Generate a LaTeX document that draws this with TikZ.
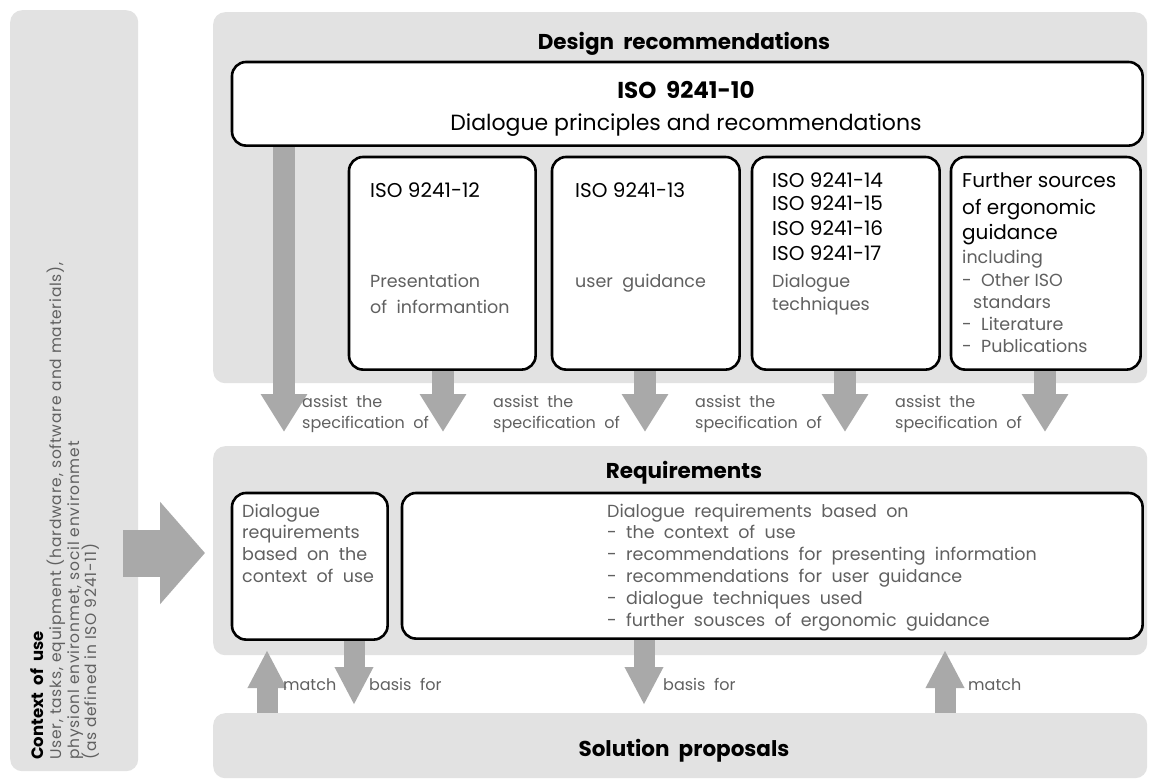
\documentclass[tikz,border=0pt]{standalone}
\usepackage{fontspec}
\setmainfont{Poppins}
\newfontfamily\spacedfont[LetterSpace=5]{Poppins}
\usetikzlibrary{arrows.meta}

\definecolor{panel}{HTML}{E2E2E2}
\definecolor{flow}{HTML}{A9A9A9}
\definecolor{note}{HTML}{606060}

\tikzset{
  panelbox/.style={fill=panel, rounded corners=12pt, inner sep=0pt, anchor=north west},
  stdbox/.style={fill=white, draw=black, line width=2.6pt, rounded corners=14pt, inner sep=0pt, anchor=north west},
  head/.style={font=\fontsize{21.5}{24}\selectfont\bfseries, anchor=base, text=black, inner sep=0pt},
  sidehead/.style={font=\fontsize{16.5}{18}\selectfont\bfseries, anchor=base west, text=black, inner sep=0pt, rotate=90},
  sidebody/.style={font=\spacedfont\fontsize{15.5}{18}\selectfont, anchor=base west, text=note, inner sep=0pt, rotate=90},
  isohead/.style={font=\fontsize{20}{22}\selectfont, anchor=base west, text=black, inner sep=0pt},
  body/.style={font=\fontsize{17.5}{20}\selectfont, anchor=base west, text=note, inner sep=0pt},
  flowlabel/.style={font=\fontsize{16}{18}\selectfont, anchor=base west, text=note, inner sep=0pt},
  flowdown/.style={draw=flow, line width=22pt, -{Triangle[width=44pt,length=38pt]}},
  flowsmall/.style={draw=flow, line width=21pt, -{Triangle[width=36pt,length=38pt]}},
  flowbig/.style={draw=flow, line width=47pt, -{Triangle[width=100pt,length=45pt]}},
}

\begin{document}
\begin{tikzpicture}[x=1pt, y=-1pt]
\useasboundingbox (0,0) rectangle (1149,781);
\fill[white] (0,0) rectangle (1149,781);

% grey panels
\node[panelbox, minimum width=128pt, minimum height=761pt] (context) at (10,10) {};
\node[panelbox, minimum width=934pt, minimum height=371pt] (design) at (213,12) {};
\node[panelbox, minimum width=934pt, minimum height=209pt] (req) at (213,446) {};
\node[panelbox, minimum width=934pt, minimum height=65pt] (sol) at (213,713) {};

% arrow tips and anchor points
\coordinate (t10) at (284,432);
\coordinate (t12) at (443,432);
\coordinate (t13) at (645,432);
\coordinate (t14) at (845,432);
\coordinate (t15) at (1045,432);
\coordinate (mL) at (267,650);
\coordinate (bL) at (354,705);
\coordinate (bR) at (644,705);
\coordinate (mR) at (945,650);
\coordinate (ctxA) at (123,553);
\coordinate (ctxB) at (205,553);

% white boxes (positions only, drawn after arrows)
\path
  node[stdbox, minimum width=908pt, minimum height=81pt] (iso10) at (232,62) {}
  node[stdbox, minimum width=184pt, minimum height=210pt] (iso12) at (349,157) {}
  node[stdbox, minimum width=185pt, minimum height=210pt] (iso13) at (552,157) {}
  node[stdbox, minimum width=185pt, minimum height=210pt] (iso14) at (752,157) {}
  node[stdbox, minimum width=187pt, minimum height=210pt] (further) at (951,157) {}
  node[stdbox, minimum width=153pt, minimum height=144pt] (reqctx) at (232,493) {}
  node[stdbox, minimum width=738pt, minimum height=143pt] (reqall) at (402,493) {};

% flow arrows
\draw[flowdown] (iso10.south -| t10) -- (t10);
\draw[flowdown] (iso12.south -| t12) -- (t12);
\draw[flowdown] (iso13.south -| t13) -- (t13);
\draw[flowdown] (iso14.south -| t14) -- (t14);
\draw[flowdown] (further.south -| t15) -- (t15);
\draw[flowsmall] (sol.north -| mL) -- (mL);
\draw[flowsmall] (reqctx.south -| bL) -- (bL);
\draw[flowsmall] (reqall.south -| bR) -- (bR);
\draw[flowsmall] (sol.north -| mR) -- (mR);
\draw[flowbig] (ctxA) -- (ctxB);

% redraw white boxes on top of the arrow starts
\foreach \b in {iso10,iso12,iso13,iso14,further,reqctx,reqall}
  \draw[fill=white, draw=black, line width=2.6pt, rounded corners=14pt]
    (\b.north west) rectangle (\b.south east);

% panel headings
\node[head] (hdesign) at (684,50) {Design\ \ recommendations};
\node[head] (hreq) at (684,478) {Requirements};
\node[head] (hsol) at (684,756) {Solution\ \ proposals};

% ISO 9241-10
\node[font=\fontsize{23}{26}\selectfont\bfseries, anchor=base, inner sep=0pt] (n10a) at (686,99) {ISO\ \ 9241-10};
\node[font=\fontsize{22}{26}\selectfont, anchor=base, inner sep=0pt] (n10b) at (686,131) {Dialogue principles and recommendations};

% ISO 9241-12
\node[isohead] (n12a) at (370,197) {ISO 9241-12};
\node[body] (n12b) at (370,287) {Presentation};
\node[body] (n12c) at (370,313) {of\ \ informantion};

% ISO 9241-13
\node[isohead] (n13a) at (575,197) {ISO 9241-13};
\node[body] (n13b) at (575,287) {user\ \ guidance};

% ISO 9241-14 .. 17
\node[isohead] (n14a) at (772,188) {ISO 9241-14};
\node[isohead] (n14b) at (772,211) {ISO 9241-15};
\node[isohead] (n14c) at (772,235) {ISO 9241-16};
\node[isohead] (n14d) at (772,260) {ISO 9241-17};
\node[body] (n14e) at (772,287) {Dialogue};
\node[body] (n14f) at (772,310) {techniques};

% further sources
\node[isohead] (nfa) at (962,188) {Further sources};
\node[isohead] (nfb) at (962,214) {of ergonomic};
\node[isohead] (nfc) at (962,239) {guidance};
\node[body] (nfd) at (962,263) {including};
\node[body] (nfe) at (962,286) {-\ \ Other ISO};
\node[body] (nff) at (973,308) {standars};
\node[body] (nfg) at (962,330) {-\ \ Literature};
\node[body] (nfh) at (962,352) {-\ \ Publications};

% arrow labels
\foreach \x/\n in {302/1, 493/2, 695/3, 895/4} {
  \node[flowlabel] (as\n) at (\x,407) {assist\ \ the};
  \node[flowlabel] (sp\n) at (\x,428) {specification\ \ of};
}
\node[flowlabel] (lmL) at (283,690) {match};
\node[flowlabel] (lbL) at (369,690) {basis\ \ for};
\node[flowlabel] (lbR) at (663,690) {basis\ \ for};
\node[flowlabel] (lmR) at (968,690) {match};

% requirement boxes
\node[body] (rc1) at (242,517) {Dialogue};
\node[body] (rc2) at (242,538) {requirements};
\node[body] (rc3) at (242,560) {based\ \ on\ \ the};
\node[body] (rc4) at (242,582) {context\ \ of\ \ use};

\node[body] (ra0) at (607,517) {Dialogue\ \ requirements\ \ based\ \ on};
\node[body] (ra1) at (607,538) {-\ \ the\ \ context\ \ of\ \ use};
\node[body] (ra2) at (607,560) {-\ \ recommendations\ \ for\ \ presenting\ \ information};
\node[body] (ra3) at (607,582) {-\ \ recommendations\ \ for\ \ user\ \ guidance};
\node[body] (ra4) at (607,604) {-\ \ dialogue\ \ techniques\ \ used};
\node[body] (ra5) at (607,626) {-\ \ further\ \ sousces\ \ of\ \ ergonomic\ \ guidance};

% context of use (vertical text)
\node[sidehead] (ctx1) at (43,760) {Context\ \ of\ \ use};
\node[sidebody] (ctx2) at (61,760) {User, tasks, equipment (hardware, software and materials),};
\node[sidebody] (ctx3) at (79,760) {physionl environmet, socil environmet};
\node[sidebody] (ctx4) at (96,760) {(as defined in ISO 9241-11)};
\end{tikzpicture}
\end{document}
